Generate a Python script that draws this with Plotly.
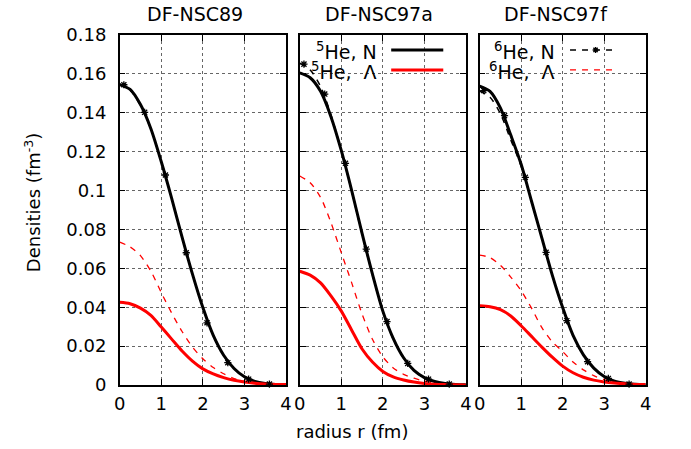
import plotly.graph_objects as go

# ---------------- data ----------------
panel_titles = ["DF-NSC89", "DF-NSC97a", "DF-NSC97f"]

r = [0.0, 0.25, 0.5, 0.75, 1.0, 1.25, 1.5, 1.75, 2.0, 2.25, 2.5, 2.75, 3.0, 3.25, 3.5, 3.75, 4.0]
r_marks = [0.1, 0.6, 1.1, 1.6, 2.1, 2.6, 3.1, 3.6]

# DF-NSC89
he5_N_89 = [0.1545, 0.152, 0.1442, 0.1318, 0.1148, 0.096, 0.076, 0.057, 0.0398, 0.0255, 0.0153, 0.0085, 0.0042, 0.0019, 0.0008, 0.0003, 0.0001]
he5_L_89 = [0.0425, 0.0418, 0.0395, 0.0358, 0.0298, 0.0236, 0.0175, 0.0123, 0.0083, 0.0057, 0.0038, 0.0024, 0.0015, 0.0009, 0.0005, 0.0003, 0.0002]
he6_N_89 = [0.1548, 0.1516, 0.1436, 0.1316, 0.1148, 0.096, 0.076, 0.057, 0.0398, 0.0255, 0.0153, 0.0085, 0.0042, 0.0019, 0.0008, 0.0003, 0.0001]
he6_L_89 = [0.0735, 0.071, 0.0665, 0.0585, 0.0475, 0.037, 0.0275, 0.0195, 0.0135, 0.009, 0.0058, 0.0033, 0.0019, 0.0011, 0.0006, 0.0003, 0.0001]
he6_N_89_marks = [0.1544, 0.1402, 0.108, 0.068, 0.032, 0.0115, 0.003, 0.0005]

# DF-NSC97a
he5_N_97a = [0.1605, 0.158, 0.151, 0.138, 0.1205, 0.100, 0.078, 0.057, 0.038, 0.024, 0.014, 0.0075, 0.0038, 0.0018, 0.0008, 0.0003, 0.0001]
he5_L_97a = [0.0585, 0.0565, 0.0525, 0.0458, 0.038, 0.0282, 0.0185, 0.0118, 0.007, 0.0042, 0.0026, 0.0015, 0.0008, 0.0004, 0.0002, 0.0001, 0.0]
he6_N_97a = [0.1655, 0.162, 0.1535, 0.139, 0.1205, 0.0995, 0.0775, 0.0565, 0.0378, 0.0235, 0.0138, 0.0074, 0.0037, 0.0017, 0.0007, 0.0003, 0.0001]
he6_L_97a = [0.1075, 0.104, 0.0965, 0.0835, 0.068, 0.0525, 0.0365, 0.0235, 0.0145, 0.0088, 0.0055, 0.0035, 0.002, 0.0011, 0.0006, 0.0003, 0.0001]
he6_N_97a_marks = [0.165, 0.1496, 0.114, 0.0699, 0.0326, 0.0111, 0.003, 0.0005]

# DF-NSC97f
he5_N_97f = [0.1537, 0.151, 0.1425, 0.1285, 0.1135, 0.0945, 0.0755, 0.0565, 0.0398, 0.0255, 0.0155, 0.0087, 0.0044, 0.002, 0.0009, 0.0004, 0.0001]
he5_L_97f = [0.0407, 0.0402, 0.0387, 0.0355, 0.0305, 0.025, 0.0195, 0.0143, 0.0097, 0.0063, 0.004, 0.0025, 0.0016, 0.001, 0.0006, 0.0003, 0.0002]
he6_N_97f = [0.1512, 0.148, 0.1395, 0.126, 0.1125, 0.0945, 0.0755, 0.0565, 0.0398, 0.0255, 0.0155, 0.0087, 0.0044, 0.002, 0.0009, 0.0004, 0.0001]
he6_L_97f = [0.0668, 0.0655, 0.0615, 0.0555, 0.0485, 0.0395, 0.0295, 0.0222, 0.0172, 0.0118, 0.0078, 0.0048, 0.0028, 0.0017, 0.001, 0.0005, 0.0002]
he6_N_97f_marks = [0.1514, 0.1385, 0.1068, 0.0682, 0.0331, 0.012, 0.0034, 0.0005]

y_tickvals = [0, 0.02, 0.04, 0.06, 0.08, 0.1, 0.12, 0.14, 0.16, 0.18]
y_ticktext = ["0", "0.02", "0.04", "0.06", "0.08", "0.1", "0.12", "0.14", "0.16", "0.18"]
x_tickvals = [0, 1, 2, 3, 4]

legend_labels = ["<sup>5</sup>He, N", "<sup>5</sup>He,\u00a0\u00a0\u039b",
                 "<sup>6</sup>He, N", "<sup>6</sup>He,\u00a0\u00a0\u039b"]

# ---------------- layout helpers ----------------
W, H = 691, 449
FONT = "DejaVu Sans"
px_x = lambda v: v / W


def px_y(v):
    # vertical pixel position (measured on the reference) -> paper fraction,
    # with a small empirical correction for the rendering viewport
    v = (v - 8.0) / 0.955
    return 1 - v / H


x_domains = [(115.7, 285.0), (299.0, 468.0), (482.0, 651.0)]
y_domain = [px_y(382.7), px_y(32.0)]

RED = "#ff0000"
fig = go.Figure()

series = [
    (he5_N_89, he5_L_89, he6_N_89, he6_L_89, he6_N_89_marks),
    (he5_N_97a, he5_L_97a, he6_N_97a, he6_L_97a, he6_N_97a_marks),
    (he5_N_97f, he5_L_97f, he6_N_97f, he6_L_97f, he6_N_97f_marks),
]

for i, (n5, l5, n6, l6, n6m) in enumerate(series):
    xa = "x" if i == 0 else f"x{i+1}"
    ya = "y" if i == 0 else f"y{i+1}"
    common = dict(xaxis=xa, yaxis=ya, showlegend=False, mode="lines", hoverinfo="skip")
    fig.add_trace(go.Scatter(x=r, y=n6, line=dict(color="black", width=1.5, dash="6px,6px", shape="spline", smoothing=0.8), **common))
    fig.add_trace(go.Scatter(x=r, y=l6, line=dict(color=RED, width=1.3, dash="6px,6px", shape="spline", smoothing=0.8), **common))
    fig.add_trace(go.Scatter(x=r, y=n5, line=dict(color="black", width=3, shape="spline", smoothing=0.8), **common))
    fig.add_trace(go.Scatter(x=r, y=l5, line=dict(color=RED, width=3, shape="spline", smoothing=0.8), **common))
    fig.add_trace(go.Scatter(x=r_marks, y=n6m, xaxis=xa, yaxis=ya, mode="markers", showlegend=False,
                             hoverinfo="skip", cliponaxis=False,
                             marker=dict(symbol="asterisk-open", size=6, color="black",
                                         line=dict(color="black", width=1.3))))

    axis_common = dict(ticks="inside", ticklen=6, tickwidth=1, tickcolor="black",
                       showline=True, linecolor="black", linewidth=1.5, mirror="allticks",
                       showgrid=True, gridcolor="#666666", griddash="dot", gridwidth=1,
                       zeroline=False, tickfont=dict(family=FONT, size=18, color="black"))
    xkey = "xaxis" if i == 0 else f"xaxis{i+1}"
    ykey = "yaxis" if i == 0 else f"yaxis{i+1}"
    fig.update_layout({
        xkey: dict(domain=[px_x(x_domains[i][0]), px_x(x_domains[i][1])], range=[0, 4],
                   tickvals=x_tickvals, anchor=ya, ticklabelstandoff=2, **axis_common),
        ykey: dict(domain=y_domain, range=[0, 0.18], tickvals=y_tickvals, ticktext=y_ticktext,
                   anchor=xa, showticklabels=(i == 0), ticklabelstandoff=8, **axis_common),
    })

annotations = []
# panel titles
for title, cx in zip(panel_titles, [192, 380, 560]):
    annotations.append(dict(text=title, x=px_x(cx), y=px_y(11), xref="paper", yref="paper",
                            showarrow=False, xanchor="center", yanchor="middle",
                            font=dict(family=FONT, size=19, color="black")))
# axis titles
annotations.append(dict(text="radius r (fm)", x=px_x(352), y=px_y(429), xref="paper", yref="paper",
                        showarrow=False, xanchor="center", yanchor="middle",
                        font=dict(family=FONT, size=18, color="black")))
annotations.append(dict(text="Densities (fm<sup>-3</sup>)", x=px_x(27), y=px_y(200), xref="paper", yref="paper",
                        showarrow=False, xanchor="center", yanchor="middle", textangle=-90,
                        font=dict(family=FONT, size=18, color="black")))

# manual gnuplot-style key (text on the left, sample on the right)
shapes = []
key_rows = [47, 67]
key_sets = [
    (380, 392, 445, [(legend_labels[0], dict(color="black", width=3)),
                     (legend_labels[1], dict(color=RED, width=3))]),
    (561, 574, 622, [(legend_labels[2], dict(color="black", width=1.5, dash="6px,6px")),
                     (legend_labels[3], dict(color=RED, width=1.3, dash="6px,6px"))]),
]
for tx, lx0, lx1, rows in key_sets:
    for (label, lstyle), ry in zip(rows, key_rows):
        annotations.append(dict(text=label, x=px_x(tx), y=px_y(ry + 1), xref="paper", yref="paper",
                                showarrow=False, xanchor="right", yanchor="middle",
                                font=dict(family=FONT, size=19, color="black")))
        shapes.append(dict(type="line", xref="paper", yref="paper",
                           x0=px_x(lx0), x1=px_x(lx1), y0=px_y(ry), y1=px_y(ry), line=lstyle))
# asterisk point in the 6He N key sample
cx, cy, s, d = 600, 47, 3, 2.2
path = (f"M{px_x(cx-s)},{px_y(cy)} L{px_x(cx+s)},{px_y(cy)} "
        f"M{px_x(cx)},{px_y(cy-s)} L{px_x(cx)},{px_y(cy+s)} "
        f"M{px_x(cx-d)},{px_y(cy-d)} L{px_x(cx+d)},{px_y(cy+d)} "
        f"M{px_x(cx-d)},{px_y(cy+d)} L{px_x(cx+d)},{px_y(cy-d)}")
shapes.append(dict(type="path", xref="paper", yref="paper", path=path,
                   line=dict(color="black", width=1.4)))

fig.update_layout(width=W, height=H, margin=dict(l=0, r=0, t=0, b=0),
                  paper_bgcolor="white", plot_bgcolor="white",
                  font=dict(family=FONT, size=18, color="black"),
                  annotations=annotations, shapes=shapes)

fig.write_html("out.html")
